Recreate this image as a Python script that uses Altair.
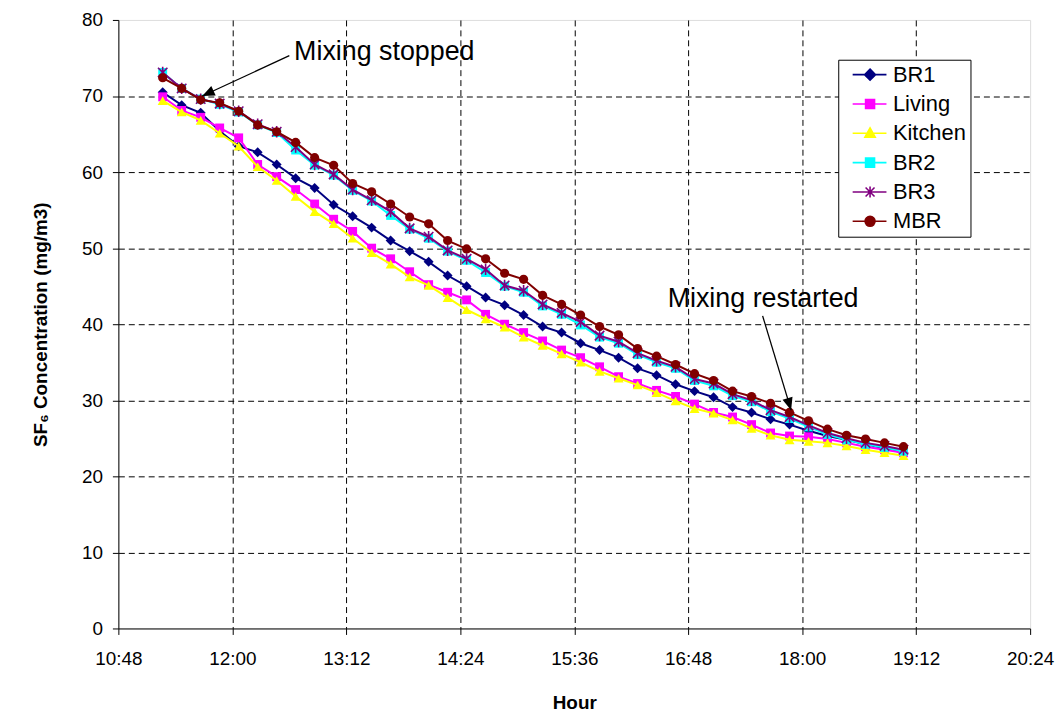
import math
import altair as alt
import pandas as pd

# ---------------- data ----------------
times = ["11:16", "11:28", "11:40", "11:52", "12:04", "12:16", "12:28", "12:40", "12:52", "13:04",
         "13:16", "13:28", "13:40", "13:52", "14:04", "14:16", "14:28", "14:40", "14:52", "15:04",
         "15:16", "15:28", "15:40", "15:52", "16:04", "16:16", "16:28", "16:40", "16:52", "17:04",
         "17:16", "17:28", "17:40", "17:52", "18:04", "18:16", "18:28", "18:40", "18:52", "19:04"]

br1 = [70.5, 68.8, 67.8, 65.4, 63.4, 62.6, 61.0, 59.2, 57.9, 55.7, 54.2,
       52.7, 51.0, 49.6, 48.2, 46.4, 45.0, 43.5, 42.5, 41.2, 39.7, 38.9, 37.5,
       36.6, 35.6, 34.2, 33.3, 32.1, 31.2, 30.4, 29.1, 28.4, 27.5, 26.8,
       26.0, 25.3, 24.8, 24.2, 23.7, 23.1]
living = [69.9, 68.1, 67.2, 65.8, 64.5, 61.0, 59.4, 57.7, 55.8, 53.8, 52.2,
          50.0, 48.6, 46.9, 45.2, 44.2, 43.2, 41.3, 40.0, 38.9, 37.8, 36.6, 35.6,
          34.4, 33.1, 32.2, 31.3, 30.5, 29.5, 28.4, 27.8, 26.8, 25.7, 25.3,
          25.2, 24.9, 24.4, 23.9, 23.5, 23.1]
kitchen = [69.4, 67.9, 66.8, 65.1, 63.4, 60.7, 58.9, 56.8, 54.8, 53.2, 51.3,
           49.4, 47.9, 46.2, 45.1, 43.5, 41.9, 40.7, 39.6, 38.3, 37.2, 36.1, 35.0,
           33.8, 32.9, 32.0, 31.0, 29.9, 28.9, 28.3, 27.4, 26.3, 25.4, 24.8,
           24.6, 24.4, 24.0, 23.5, 23.1, 22.7]
br2 = [73.1, 71.0, 69.6, 68.9, 67.9, 66.2, 65.2, 62.9, 60.9, 59.6, 57.6,
       56.2, 54.3, 52.5, 51.3, 49.6, 48.4, 46.8, 45.0, 44.2, 42.4, 41.3, 39.9,
       38.3, 37.5, 36.0, 35.0, 34.2, 32.6, 31.9, 30.6, 29.8, 28.5, 27.6,
       26.5, 25.5, 24.8, 24.2, 23.8, 23.3]
br3 = [73.1, 71.0, 69.6, 69.0, 68.0, 66.3, 65.3, 63.3, 61.0, 59.7, 57.7,
       56.3, 54.8, 52.6, 51.5, 49.7, 48.6, 47.2, 45.1, 44.4, 42.6, 41.5, 40.3,
       38.5, 37.7, 36.2, 35.2, 34.4, 32.8, 32.2, 30.8, 30.0, 28.7, 27.8,
       26.7, 25.7, 25.0, 24.4, 24.0, 23.5]
mbr = [72.4, 71.0, 69.5, 69.1, 68.0, 66.2, 65.3, 63.9, 61.9, 60.9, 58.5,
       57.4, 55.8, 54.1, 53.2, 51.0, 49.9, 48.6, 46.7, 45.9, 43.8, 42.6, 41.2,
       39.7, 38.6, 36.8, 35.8, 34.7, 33.5, 32.6, 31.2, 30.5, 29.6, 28.4,
       27.3, 26.2, 25.4, 24.9, 24.4, 23.9]

series_names = ["BR1", "Living", "Kitchen", "BR2", "BR3", "MBR"]
series_values = [br1, living, kitchen, br2, br3, mbr]

x_tick_labels = ["10:48", "12:00", "13:12", "14:24", "15:36", "16:48", "18:00", "19:12", "20:24"]
y_ticks = [0, 10, 20, 30, 40, 50, 60, 70, 80]

ann_labels = ["Mixing stopped", "Mixing restarted"]
ann_time = ["12:39", "16:35"]
ann_value = [74.75, 42.2]
arrow_start_time = ["12:36", "17:35"]
arrow_start_value = [75.3, 41.1]
arrow_end_time = ["11:41", "17:53"]
arrow_end_value = [70.0, 28.7]

# ---------------- styles ----------------
series_colors = ["#000080", "#FF00FF", "#FFFF00", "#00FFFF", "#800080", "#800000"]
marker_shapes = ["diamond", "square", "triangle-up", "square",
                 "M-1,-1L1,1M-1,1L1,-1M0,-1.2V1.2", "circle"]
marker_filled = [True, True, True, True, False, True]
marker_sizes = [100, 80, 100, 80, 90, 85]
legend_paths = [
    "M-0.05,0H3.35M1.7,-0.55L2.25,0L1.7,0.55L1.15,0Z",
    "M-0.05,0H3.35M1.25,-0.45H2.15V0.45H1.25Z",
    "M-0.05,0H3.35M1.7,-0.55L2.22,0.4H1.18Z",
    "M-0.05,0H3.35M1.25,-0.45H2.15V0.45H1.25Z",
    "M-0.05,0H3.35M1.25,-0.45L2.15,0.45M1.25,0.45L2.15,-0.45M1.7,-0.55V0.55",
    "M-0.05,0H3.35M2.2,0A0.5,0.5,0,1,1,1.2,0A0.5,0.5,0,1,1,2.2,0Z",
]

FONT = "Liberation Sans"
PLOT_W, PLOT_H = 917, 612


def to_minutes(t):
    h, m = t.split(":")
    return int(h) * 60 + int(m)


X_MIN, X_MAX = to_minutes(x_tick_labels[0]), to_minutes(x_tick_labels[-1])
Y_MIN, Y_MAX = y_ticks[0], y_ticks[-1]

rows = []
for name, vals in zip(series_names, series_values):
    for t, v in zip(times, vals):
        rows.append({"series": name, "minute": to_minutes(t), "value": v})
df = pd.DataFrame(rows)

text_df = pd.DataFrame({"label": ann_labels,
                        "minute": [to_minutes(t) for t in ann_time],
                        "value": ann_value})
arrow_df = pd.DataFrame({"minute": [to_minutes(t) for t in arrow_start_time],
                         "value": arrow_start_value,
                         "minute2": [to_minutes(t) for t in arrow_end_time],
                         "value2": arrow_end_value})
px_x = PLOT_W / (X_MAX - X_MIN)
px_y = PLOT_H / (Y_MAX - Y_MIN)
angles = []
for t1, v1, t2, v2 in zip(arrow_start_time, arrow_start_value, arrow_end_time, arrow_end_value):
    dx = (to_minutes(t2) - to_minutes(t1)) * px_x
    dy = -(v2 - v1) * px_y
    angles.append(math.degrees(math.atan2(dx, -dy)) % 360)
head_df = pd.DataFrame({"minute": [to_minutes(t) for t in arrow_end_time],
                        "value": arrow_end_value, "angle": angles})

x_axis = alt.Axis(
    values=[to_minutes(t) for t in x_tick_labels],
    labelExpr="floor(datum.value / 60) + ':' + (datum.value % 60 < 10 ? '0' : '') + (datum.value % 60)",
    title="Hour", titleFont=FONT, titleFontSize=19, titleFontWeight="bold", titleColor="black",
    titleBaseline="alphabetic", titleY=80,
    labelFont=FONT, labelFontSize=19, labelColor="black", labelPadding=15,
    labelFlush=False, labelOverlap=False,
    tickSize=6, tickColor="black", domainColor="black", domainWidth=1,
    grid=True, gridColor="black", gridDash=[6, 4], gridWidth=1,
    gridOpacity={"condition": {"test": "datum.value == %d || datum.value == %d" % (X_MIN, X_MAX), "value": 0}, "value": 1},
)
y_axis = alt.Axis(
    values=y_ticks,
    title="SF₆ Concentration (mg/m3)", titleFont=FONT, titleFontSize=19, titleFontWeight="bold",
    titleColor="black", titleAngle=270, titleAlign="center", titleBaseline="alphabetic",
    titleX=-72, titleY=PLOT_H / 2,
    labelFont=FONT, labelFontSize=19, labelColor="black", labelPadding=10,
    tickSize=6, tickColor="black", domainColor="black", domainWidth=1,
    grid=True, gridColor="black", gridDash=[6, 4], gridWidth=1,
    gridOpacity={"condition": {"test": "datum.value == %d || datum.value == %d" % (Y_MIN, Y_MAX), "value": 0}, "value": 1},
)


def X(field="minute"):
    return alt.X(f"{field}:Q", scale=alt.Scale(domain=[X_MIN, X_MAX], nice=False, zero=False), axis=x_axis)


def Y(field="value"):
    return alt.Y(f"{field}:Q", scale=alt.Scale(domain=[Y_MIN, Y_MAX], nice=False, zero=False), axis=y_axis)


layers = []
for name, col, shp, filled, size in zip(series_names, series_colors, marker_shapes, marker_filled, marker_sizes):
    base = alt.Chart(df).transform_filter(alt.datum.series == name)
    layers.append(base.mark_line(color=col, strokeWidth=2).encode(x=X(), y=Y()))
    if filled:
        pts = base.mark_point(shape=shp, color=col, filled=True, size=size, opacity=1)
    else:
        pts = base.mark_point(shape=shp, color=col, filled=False, size=size, opacity=1, strokeWidth=1.6)
    layers.append(pts.encode(x=X(), y=Y()))

arrows = alt.Chart(arrow_df).mark_rule(color="black", strokeWidth=1.3).encode(
    x=X(), y=Y(), x2=alt.X2("minute2:Q"), y2=alt.Y2("value2:Q"))
heads = alt.Chart(head_df).mark_point(shape="M0,0L-0.42,1L0.42,1Z", filled=True, color="black",
                                      size=620, opacity=1).encode(
    x=X(), y=Y(), angle=alt.Angle("angle:Q", scale=None))
texts = alt.Chart(text_df).mark_text(align="left", baseline="alphabetic", font=FONT, fontSize=27,
                                     color="black").encode(x=X(), y=Y(), text="label:N")

legend_def = alt.Legend(
    title=None, orient="none", legendX=724, legendY=40, direction="vertical",
    fillColor="white", strokeColor="black", padding=4,
    labelFont=FONT, labelFontSize=22, labelColor="black", labelOffset=29, rowPadding=7.5,
    symbolSize=400, symbolStrokeWidth=1.6, symbolOpacity=1,
)
legend_layer = alt.Chart(df).transform_filter("false").mark_point(opacity=1).encode(
    fill=alt.Fill("series:N", scale=alt.Scale(domain=series_names, range=series_colors), legend=legend_def),
    stroke=alt.Stroke("series:N", scale=alt.Scale(domain=series_names, range=series_colors), legend=legend_def),
    shape=alt.Shape("series:N", scale=alt.Scale(domain=series_names, range=legend_paths), legend=legend_def),
)

chart = alt.layer(*layers, arrows, heads, texts, legend_layer).properties(
    width=PLOT_W, height=PLOT_H,
    autosize=alt.AutoSizeParams(type="none"),
    padding={"left": 111, "top": 10, "right": 25, "bottom": 84},
).configure_view(fill="#C0C0C0", stroke="#808080", strokeWidth=1).configure(font=FONT)

chart.save("out.html", embed_options={"renderer": "svg", "actions": False})
